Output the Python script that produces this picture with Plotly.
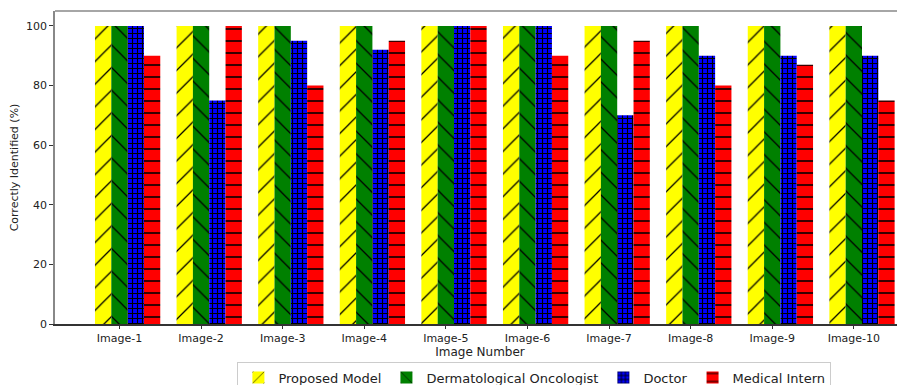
import plotly.graph_objects as go

images = ["Image-1", "Image-2", "Image-3", "Image-4", "Image-5",
          "Image-6", "Image-7", "Image-8", "Image-9", "Image-10"]
proposed_model = [100, 100, 100, 100, 100, 100, 100, 100, 100, 100]
derm_oncologist = [100, 100, 100, 100, 100, 100, 100, 100, 100, 100]
doctor = [100, 75, 95, 92, 100, 100, 70, 90, 90, 90]
medical_intern = [90, 100, 80, 95, 100, 90, 95, 80, 87, 75]

series = [
    ("Proposed Model", proposed_model, "#ffff00", "/", 16, 0.08, -0.3),
    ("Dermatological Oncologist", derm_oncologist, "#008000", "\\", 16, 0.08, -0.1),
    ("Doctor", doctor, "#0000ff", "+", 5, 0.4, 0.1),
    ("Medical Intern", medical_intern, "#ff0000", "-", 12, 0.13, 0.3),
]

fig = go.Figure()
for name, vals, color, shape, size, sol, off in series:
    fig.add_trace(go.Bar(
        x=images, y=vals, name=name, width=0.2, offset=off,
        marker=dict(color=color, line=dict(width=0),
                    pattern=dict(shape=shape, fgcolor="#000000", fgopacity=1,
                                 size=size, solidity=sol, fillmode="overlay")),
    ))

fig.update_layout(
    width=897, height=377,
    margin=dict(l=47, r=0, t=3, b=61, autoexpand=False),
    barmode="overlay",
    plot_bgcolor="white", paper_bgcolor="white",
    font=dict(family="DejaVu Sans", size=11, color="#222"),
    showlegend=True,
    legend=dict(orientation="h", x=0.564, y=-0.12, xanchor="center", yanchor="top",
                bordercolor="#cccccc", borderwidth=1, font=dict(size=13),
                bgcolor="white", itemwidth=30, tracegroupgap=0),
    xaxis=dict(type="category", range=[-0.79, 9.627], showline=True, linecolor="#333",
               linewidth=1.5, ticks="outside", ticklen=3, tickcolor="#333",
               title=dict(text="Image Number", font=dict(size=12), standoff=1),
               showgrid=False, zeroline=False, automargin=False),
    yaxis=dict(range=[0, 105], tickvals=[0, 20, 40, 60, 80, 100], showline=True,
               linecolor="#888", linewidth=1.5, ticks="outside", ticklen=4,
               tickcolor="#333", showgrid=False, zeroline=False, automargin=False,
               title=dict(text="Correctly Identified (%)", font=dict(size=11), standoff=8)),
    shapes=[dict(type="line", xref="paper", yref="paper", x0=0, x1=1, y0=1, y1=1,
                 line=dict(color="#888", width=1.5))],
)

fig.write_html("out.html")
